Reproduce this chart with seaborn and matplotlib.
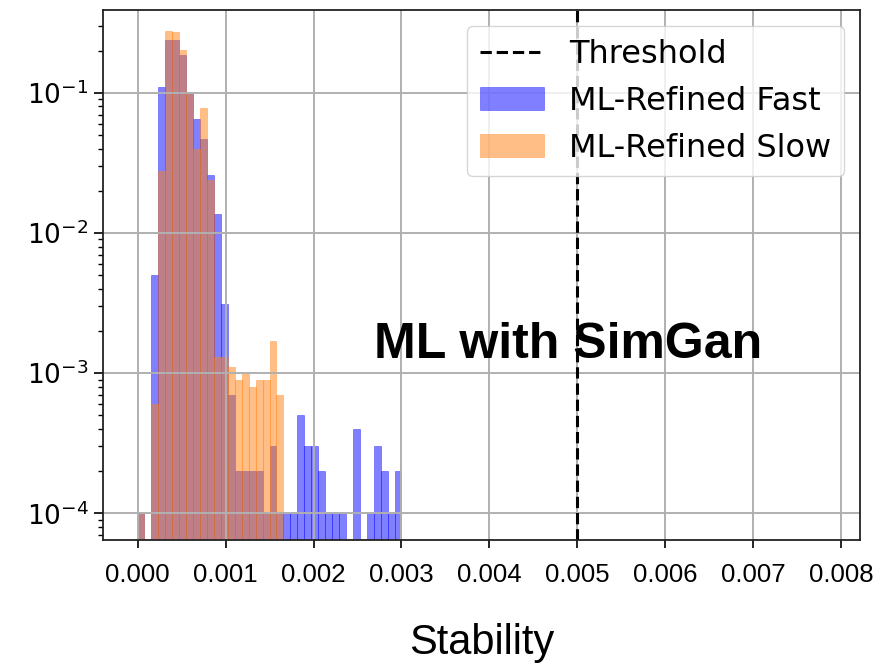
import numpy as np
import pandas as pd
import matplotlib
matplotlib.use("Agg")
import matplotlib.pyplot as plt
import seaborn as sns
from matplotlib.colors import to_rgba
from matplotlib.ticker import FormatStrFormatter

# histogram bins (shared by both series)
bin_lo, bin_hi, n_bins = 0.0, 0.003, 38

# fraction of samples per bin
fast_frac = [1e-4, 0, 0.005, 0.11, 0.239, 0.237, 0.187, 0.0975, 0.065, 0.047,
             0.026, 0.0137, 0.0031, 0.0007, 0.0002, 0.0002, 0.0002, 0.0002, 0.0001, 0.0003,
             0.0001, 0.0001, 0.0001, 0.0005, 0.0003, 0.0003, 0.0002, 0.0001, 0.0001, 0.0001,
             0, 0.0004, 0, 0.0001, 0.0003, 0.0002, 0.0001, 0.0002]
slow_frac = [1e-4, 0, 0.0006, 0.0276, 0.276, 0.27, 0.201, 0.101, 0.04, 0.078,
             0.0237, 0.0013, 0.0013, 0.0011, 0.0009, 0.001, 0.0008, 0.0009, 0.0009, 0.0017,
             0.0007, 0, 0, 0, 0, 0, 0, 0, 0, 0,
             0, 0, 0, 0, 0, 0, 0, 0]

threshold = 0.005
x_ticks = [0.000, 0.001, 0.002, 0.003, 0.004, 0.005, 0.006, 0.007, 0.008]
series_labels = ["ML-Refined Fast", "ML-Refined Slow"]

edges = np.linspace(bin_lo, bin_hi, n_bins + 1)
centers = (edges[:-1] + edges[1:]) / 2
df = pd.DataFrame({
    "stability": np.concatenate([centers, centers]),
    "fraction": np.concatenate([fast_frac, slow_frac]),
    "series": [series_labels[0]] * n_bins + [series_labels[1]] * n_bins,
})

sns.set_style("ticks")
plt.rcParams["font.family"] = ["DejaVu Sans"]
plt.rcParams["axes.axisbelow"] = "line"
for key in ["text.color", "axes.labelcolor", "xtick.color", "ytick.color"]:
    plt.rcParams[key] = "black"

fig, ax = plt.subplots(figsize=(8.82, 6.64), dpi=100)
fig.subplots_adjust(left=0.117, right=0.975, bottom=0.186, top=0.985)

ax.axvline(threshold, color="black", linestyle="--", linewidth=2.2, label="Threshold")

colors = {"ML-Refined Fast": "blue", "ML-Refined Slow": "#ff7f0e"}
for name in series_labels:
    sub = df[df["series"] == name]
    # faint same-colour edges give the thin seams between bars
    sns.histplot(data=sub, x="stability", weights="fraction", bins=n_bins,
                 binrange=(bin_lo, bin_hi),
                 color=colors[name], alpha=0.5,
                 edgecolor=to_rgba(colors[name], 0.35), linewidth=0.7,
                 label=name, ax=ax)

ax.set_yscale("log")
ax.set_xlim(-0.00039, 0.00821)
ax.set_ylim(6.4e-5, 0.39)
ax.set_xticks(x_ticks)
ax.xaxis.set_major_formatter(FormatStrFormatter("%.3f"))
ax.set_ylabel("")

ax.grid(True, which="major", color="#b0b0b0", linewidth=1.4)
for sp in ax.spines.values():
    sp.set_visible(True)
    sp.set_linewidth(1.3)
    sp.set_color("#222222")

sans = ["Liberation Sans", "DejaVu Sans"]
ax.tick_params(axis="x", which="major", length=6, width=1.2, labelsize=18.5, pad=10)
ax.tick_params(axis="y", which="major", length=6.5, width=1.2, labelsize=19, pad=4)
ax.tick_params(axis="y", which="minor", length=3.5, width=1.0)
for lbl in ax.get_xticklabels():
    lbl.set_fontfamily(sans)

ax.set_xlabel("Stability", fontsize=30, family=sans, labelpad=26)

ax.legend(loc="upper right", fontsize=23, framealpha=0.8)

ax.text(0.615, 0.344, "ML with SimGan", transform=ax.transAxes, ha="center",
        va="baseline", fontsize=36, fontweight="bold", family=sans)

fig.savefig("out.png", dpi=100)
